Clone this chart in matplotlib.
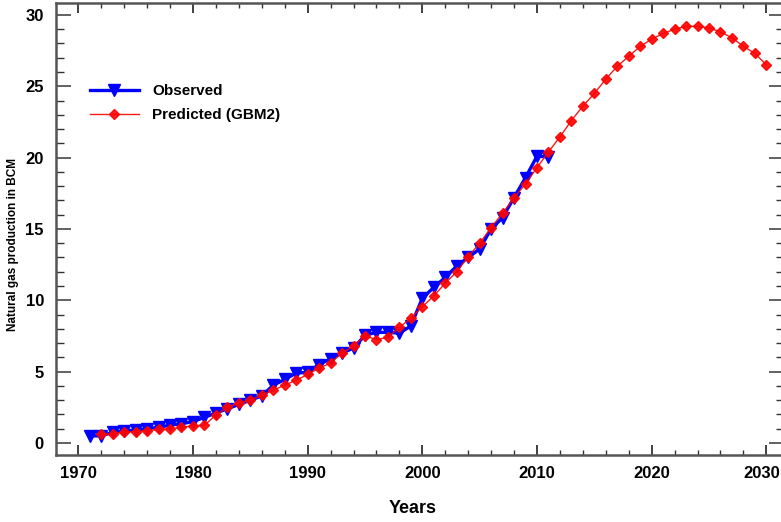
import numpy as np
import matplotlib.pyplot as plt
import matplotlib.transforms as mtransforms
from matplotlib.ticker import MultipleLocator

# observed natural gas production (BCM)
obs_years = np.arange(1971, 2012)
obs_vals = [0.5, 0.5, 0.75, 0.85, 0.9, 1.0, 1.1, 1.25, 1.35, 1.5,
            1.8, 2.1, 2.4, 2.7, 3.0, 3.3, 4.05, 4.45, 4.9, 4.95,
            5.5, 5.9, 6.3, 6.65, 7.55, 7.75, 7.75, 7.7, 8.2, 10.15,
            10.9, 11.6, 12.4, 13.0, 13.6, 15.0, 15.8, 17.2, 18.6, 20.1,
            20.05]

# GBM2 model prediction
pred_years = np.arange(1972, 2031)
pred_vals = [0.6, 0.65, 0.75, 0.8, 0.85, 0.95, 1.0, 1.1, 1.2, 1.25,
             1.95, 2.5, 2.8, 3.0, 3.35, 3.7, 4.05, 4.4, 4.8, 5.25,
             5.6, 6.3, 6.8, 7.5, 7.25, 7.4, 8.1, 8.75, 9.55, 10.3,
             11.2, 12.0, 13.05, 14.0, 15.1, 16.1, 17.2, 18.15, 19.3, 20.4,
             21.45, 22.6, 23.6, 24.5, 25.5, 26.4, 27.1, 27.8, 28.3, 28.7,
             29.0, 29.2, 29.2, 29.1, 28.8, 28.4, 27.8, 27.3, 26.5]

plt.rcParams['font.family'] = ['Liberation Sans', 'DejaVu Sans']
plt.rcParams['font.weight'] = 'bold'

fig = plt.figure(figsize=(7.81, 5.22), dpi=100)
ax = fig.add_axes([0.0723, 0.1284, 0.931, 0.866])

ax.plot(obs_years, obs_vals, color='#0000ff', lw=2.4, marker='v', ms=8,
        label='Observed')
ax.plot(pred_years, pred_vals, color='#ff0000', lw=1.0, marker='D', ms=5,
        alpha=0.9, label='Predicted (GBM2)')

ax.set_xlim(1968.1, 2031.5)
ax.set_ylim(-0.84, 30.84)
ax.xaxis.set_major_locator(MultipleLocator(10))
ax.xaxis.set_minor_locator(MultipleLocator(2))
ax.yaxis.set_major_locator(MultipleLocator(5))
ax.yaxis.set_minor_locator(MultipleLocator(1))

ax.tick_params(axis='x', which='major', direction='in', length=7, width=1.3,
               top=True, labelsize=12, pad=8, colors='#333333', labelcolor='black')
ax.tick_params(axis='x', which='minor', direction='in', length=3.5, width=1,
               top=True, colors='#333333')
ax.tick_params(axis='y', which='major', direction='in', length=11, width=1.3,
               right=True, labelsize=12, pad=9, colors='#555555', labelcolor='black')
ax.tick_params(axis='y', which='minor', direction='in', length=5.5, width=1,
               right=True, colors='#333333')
for s in ax.spines.values():
    s.set_linewidth(1.8)
    s.set_color('#555555')

ax.set_xlabel('Years', fontsize=13, fontweight='bold')
ax.xaxis.set_label_coords(0.49, -0.1)
ax.set_ylabel('Natural gas production in BCM', fontsize=8.5, fontweight='bold')
ax.yaxis.set_label_coords(-0.052, 0.465)

ax.legend(loc='upper left', bbox_to_anchor=(0.027, 0.85), frameon=False,
          fontsize=11, handlelength=3.2, handletextpad=0.9, labelspacing=0.62)

# keep the last year label inside the picture
fig.canvas.draw()
shift = mtransforms.ScaledTranslation(-5 / 100, 0, fig.dpi_scale_trans)
for t in ax.xaxis.get_major_ticks():
    if abs(t.get_loc() - 2030) < 0.5:
        t.label1.set_transform(t.label1.get_transform() + shift)

fig.savefig('out.png', dpi=100)
